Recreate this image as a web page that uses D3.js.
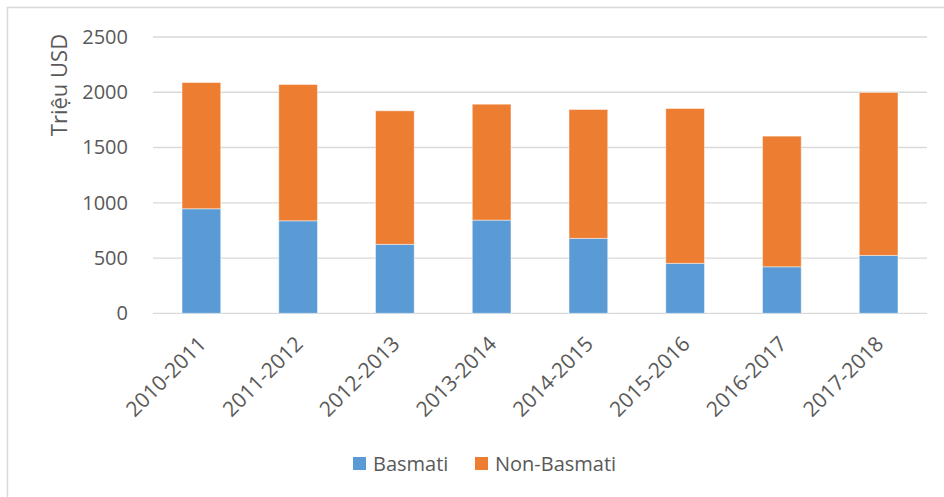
<html>
<head>
<meta charset="utf-8">
<script src="https://d3js.org/d3.v7.min.js"></script>
<style>
body {margin:0; background:white;}
text {font-family: "Open Sans", sans-serif; fill:#595959;}
</style>
</head>
<body>
<svg width="944" height="497"></svg>
<script>
// data (million USD)
var years = ["2010-2011","2011-2012","2012-2013","2013-2014","2014-2015","2015-2016","2016-2017","2017-2018"];
var basmati = [946, 837, 624, 843, 678, 452, 421, 524];
var nonBasmati = [1142, 1233, 1208, 1049, 1166, 1401, 1182, 1474];
var yTicks = [0, 500, 1000, 1500, 2000, 2500];
var seriesNames = ["Basmati", "Non-Basmati"];
var colors = ["#5B9BD5", "#ED7D31"];

var svg = d3.select("svg");

// chart frame (only top/left visible in the picture)
svg.append("rect")
  .attr("x", 7.5).attr("y", 7.5)
  .attr("width", 1000).attr("height", 1000)
  .attr("fill", "none").attr("stroke", "#d9d9d9").attr("stroke-width", 1.5);

var plotLeft = 153, plotRight = 927, plotTop = 37, plotBottom = 313.3;

var x = d3.scaleBand().domain(years).range([plotLeft, plotRight]).paddingInner(0.6).paddingOuter(0.3);
var y = d3.scaleLinear().domain([0, 2500]).range([plotBottom, plotTop]);

// gridlines
svg.append("g").selectAll("line").data(yTicks)
  .enter().append("line")
  .attr("x1", plotLeft).attr("x2", plotRight)
  .attr("y1", function(d) {return y(d);})
  .attr("y2", function(d) {return y(d);})
  .attr("stroke", "#d9d9d9").attr("stroke-width", 1.3);

var yAxis = d3.axisLeft(y).tickValues(yTicks).tickFormat(d3.format("d")).tickSize(0).tickPadding(25);
var gy = svg.append("g").attr("transform", "translate(" + plotLeft + ",0)").call(yAxis);
gy.select(".domain").remove();
gy.selectAll("text").style("font-size", "20px").attr("fill", "#595959")
  .style("font-family", "'Open Sans', sans-serif");

// stacked bars
var rows = years.map(function(yr, i) {return {year: yr, Basmati: basmati[i], "Non-Basmati": nonBasmati[i]};});
var stack = d3.stack().keys(seriesNames)(rows);

svg.append("g").selectAll("g").data(stack)
  .enter().append("g")
  .attr("fill", function(d, i) {return colors[i];})
  .selectAll("rect").data(function(d) {return d;})
  .enter().append("rect")
  .attr("x", function(d) {return x(d.data.year);})
  .attr("width", x.bandwidth())
  .attr("y", function(d) {return y(d[1]);})
  .attr("height", function(d) {return y(d[0]) - y(d[1]);})
  .attr("stroke", "#fff").attr("stroke-width", 1).attr("stroke-opacity", 0.45);

// x labels rotated
var xAxis = d3.axisBottom(x).tickSize(0).tickPadding(0);
var gx = svg.append("g").attr("transform", "translate(0," + plotBottom + ")").call(xAxis);
gx.select(".domain").remove();
gx.selectAll("text")
  .style("font-size", "21px").attr("fill", "#595959")
  .style("font-family", "'Open Sans', sans-serif")
  .attr("text-anchor", "end")
  .attr("dy", null)
  .attr("y", 0)
  .attr("transform", "translate(6,32) rotate(-45)");

// y title
svg.append("text")
  .attr("transform", "translate(67,85) rotate(-90)")
  .attr("text-anchor", "middle")
  .style("font-size", "22px")
  .text("Triệu USD");

// legend
var legend = svg.append("g").selectAll("g").data(seriesNames)
  .enter().append("g")
  .attr("transform", function(d, i) {return "translate(" + [353, 475][i] + ",457)";});
legend.append("rect").attr("width", 13).attr("height", 13)
  .attr("fill", function(d, i) {return colors[i];});
legend.append("text").attr("x", 20).attr("y", 14)
  .style("font-size", "20px")
  .text(function(d) {return d;});
</script>
</body>
</html>
